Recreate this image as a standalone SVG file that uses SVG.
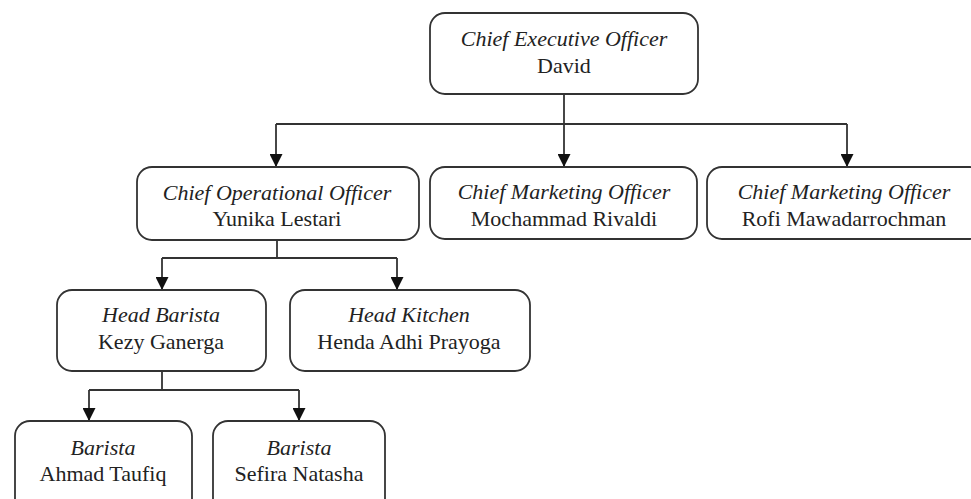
<svg xmlns="http://www.w3.org/2000/svg" width="971" height="499" viewBox="0 0 971 499">
<defs>
<style>
.box{fill:#fff;stroke:#333;stroke-width:1.8}
.ln{fill:none;stroke:#333;stroke-width:1.8}
.arr{fill:none;stroke:#333;stroke-width:1.8;marker-end:url(#ah)}
text{font-family:"Liberation Serif","Times New Roman",serif;font-size:22px;fill:#222;text-anchor:middle}
.t{font-style:italic}
</style>
<marker id="ah" markerUnits="userSpaceOnUse" markerWidth="13" markerHeight="13" refX="13" refY="6.5" orient="auto">
<path d="M0,0 L13,6.5 L0,13 z" fill="#111"/>
</marker>
</defs>
<rect width="971" height="499" fill="#fff"/>
<g id="connectors">
<path class="ln" d="M564,94 V124 M276,124 H847"/>
<path class="arr" d="M276,124 V167"/>
<path class="arr" d="M564,124 V167"/>
<path class="arr" d="M847,124 V167"/>
<path class="ln" d="M277,240 V258 M162,258 H397"/>
<path class="arr" d="M162,258 V290"/>
<path class="arr" d="M397,258 V290"/>
<path class="ln" d="M162,371 V390 M89,390 H299"/>
<path class="arr" d="M89,390 V421"/>
<path class="arr" d="M299,390 V421"/>
</g>
<g id="ceo">
<rect class="box" x="430" y="13" width="268" height="81" rx="15"/>
<text class="t" x="564" y="46">Chief Executive Officer</text>
<text x="564" y="73">David</text>
</g>
<g id="coo">
<rect class="box" x="137" y="167" width="282" height="73" rx="15"/>
<text class="t" x="277" y="200">Chief Operational Officer</text>
<text x="277" y="226">Yunika Lestari</text>
</g>
<g id="cmo1">
<rect class="box" x="430" y="167" width="267" height="72" rx="15"/>
<text class="t" x="564" y="199">Chief Marketing Officer</text>
<text x="564" y="226">Mochammad Rivaldi</text>
</g>
<g id="cmo2">
<rect class="box" x="707" y="167" width="278" height="72" rx="15"/>
<text class="t" x="844" y="199">Chief Marketing Officer</text>
<text x="844" y="226">Rofi Mawadarrochman</text>
</g>
<g id="headbarista">
<rect class="box" x="57" y="290" width="209" height="81" rx="15"/>
<text class="t" x="161" y="322">Head Barista</text>
<text x="161" y="349">Kezy Ganerga</text>
</g>
<g id="headkitchen">
<rect class="box" x="290" y="290" width="240" height="81" rx="15"/>
<text class="t" x="409" y="322">Head Kitchen</text>
<text x="409" y="349">Henda Adhi Prayoga</text>
</g>
<g id="barista1">
<rect class="box" x="15" y="421" width="177" height="95" rx="15"/>
<text class="t" x="103" y="455">Barista</text>
<text x="103" y="481">Ahmad Taufiq</text>
</g>
<g id="barista2">
<rect class="box" x="213" y="421" width="172" height="95" rx="15"/>
<text class="t" x="299" y="455">Barista</text>
<text x="299" y="481">Sefira Natasha</text>
</g>
</svg>
